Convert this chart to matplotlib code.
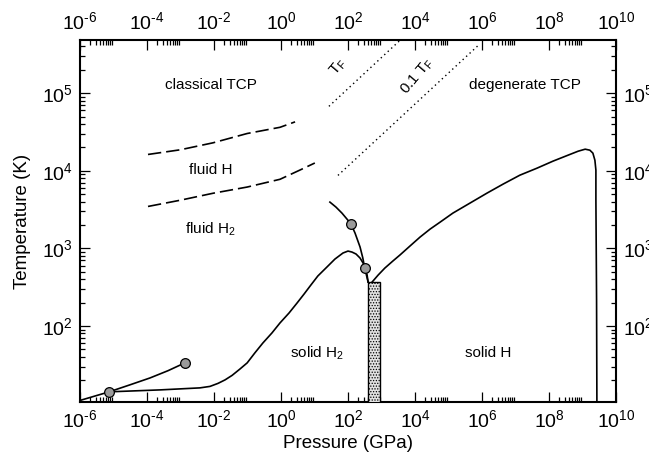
import numpy as np
import matplotlib
matplotlib.use("Agg")
import matplotlib.pyplot as plt
from matplotlib.ticker import LogLocator, FuncFormatter, NullFormatter
from matplotlib.patches import Rectangle

plt.rcParams['font.family'] = ['Liberation Sans', 'DejaVu Sans']
plt.rcParams['mathtext.fontset'] = 'custom'
plt.rcParams['mathtext.rm'] = 'Liberation Sans'
plt.rcParams['mathtext.it'] = 'Liberation Sans:italic'
plt.rcParams['hatch.color'] = '#808080'
plt.rcParams['hatch.linewidth'] = 0.6

# ---- data (log10 of pressure in GPa, log10 of temperature in K) ----
melt_logP = [-5.13, -3.61, -2.42, -2.12, -1.88, -1.67, -1.46, -1.22, -1.01, -0.78, -0.54,
             -0.27, -0.03, 0.24, 0.48, 0.69, 0.87, 1.10, 1.37, 1.61, 1.85, 2.00, 2.12,
             2.24, 2.36, 2.45, 2.51, 2.57, 2.60]
melt_logT = [1.151, 1.176, 1.202, 1.221, 1.260, 1.305, 1.363, 1.447, 1.524, 1.653, 1.781,
             1.910, 2.039, 2.167, 2.296, 2.412, 2.515, 2.644, 2.759, 2.862, 2.940, 2.965,
             2.952, 2.927, 2.875, 2.811, 2.746, 2.656, 2.566]

subl_logP = [-6.00, -5.13]
subl_logT = [1.04, 1.151]

lg_logP = [-5.13, -4.51, -3.91, -3.37, -2.87]
lg_logT = [1.151, 1.241, 1.330, 1.424, 1.524]

pt_logP = [1.46, 1.64, 1.82, 1.97, 2.09, 2.21, 2.36, 2.44, 2.50, 2.57, 2.60]
pt_logT = [3.596, 3.532, 3.454, 3.377, 3.313, 3.197, 3.017, 2.880, 2.746, 2.620, 2.566]

solidH_logP = [2.72, 2.90, 3.10, 3.34, 3.55, 3.85, 4.15, 4.45, 4.75, 5.13, 5.64, 6.15,
               6.63, 7.13, 7.64, 8.12, 8.57, 8.87, 9.08, 9.22, 9.31, 9.37, 9.40, 9.40,
               9.42, 9.43]
solidH_logT = [2.566, 2.656, 2.746, 2.837, 2.914, 3.030, 3.145, 3.248, 3.338, 3.454,
               3.583, 3.712, 3.828, 3.943, 4.033, 4.124, 4.201, 4.252, 4.278, 4.265,
               4.227, 4.136, 4.008, 3.622, 2.335, 0.98]

dashU_logP = [-3.97, -3.01, -2.03, -1.01, -0.03, 0.42]
dashU_logT = [4.21, 4.27, 4.36, 4.48, 4.56, 4.63]

dashL_logP = [-3.97, -3.01, -2.03, -1.01, -0.03, 0.57, 1.01]
dashL_logT = [3.54, 3.62, 3.71, 3.79, 3.89, 4.01, 4.10]

TF_logP = [1.43, 3.60]
TF_logT = [4.83, 5.70]
TF01_logP = [1.70, 5.90]
TF01_logT = [3.94, 5.62]

pts_logP = [-5.13, -2.87, 2.09, 2.50]
pts_logT = [1.151, 1.524, 3.313, 2.746]

rect_logP = [2.59, 2.96]
rect_logT_top = 2.57

def p(a):
    return 10.0 ** np.asarray(a)

fig = plt.figure(figsize=(6.49, 4.62), dpi=100)
ax = fig.add_axes([80/649, 1-402/462, 536/649, 362/462])
ax.set_xscale('log')
ax.set_yscale('log')
ax.set_xlim(1e-6, 1e10)
ax.set_ylim(10**1.02, 10**5.685)

lw = 1.2
for xs, ys in [(melt_logP, melt_logT), (subl_logP, subl_logT), (lg_logP, lg_logT),
               (pt_logP, pt_logT), (solidH_logP, solidH_logT)]:
    ax.plot(p(xs), p(ys), color='black', lw=lw, solid_joinstyle='round')
ax.plot(p(dashU_logP), p(dashU_logT), color='black', lw=lw, linestyle=(0, (8, 3)))
ax.plot(p(dashL_logP), p(dashL_logT), color='black', lw=lw, linestyle=(0, (8, 3)))
ax.plot(p(TF_logP), p(TF_logT), color='black', lw=1.0, linestyle=(0, (1, 2.4)))
ax.plot(p(TF01_logP), p(TF01_logT), color='black', lw=1.0, linestyle=(0, (1, 2.4)))

x0, x1 = p(rect_logP)
ax.add_patch(Rectangle((x0, 1.0), x1 - x0, 10**rect_logT_top - 1.0,
                       facecolor='#e2e2e2', edgecolor='black', lw=1.0,
                       hatch='......', zorder=3))

ax.plot(p(pts_logP), p(pts_logT), linestyle='none', marker='o', markersize=7,
        markerfacecolor='#9a9a9a', markeredgecolor='black', markeredgewidth=0.9, zorder=5)

fs = 11
ax.text(p(-2.1), p(5.10), 'classical TCP', fontsize=fs, ha='center', va='center')
ax.text(p(7.28), p(5.10), 'degenerate TCP', fontsize=fs, ha='center', va='center')
ax.text(p(-2.1), p(4.01), 'fluid H', fontsize=fs, ha='center', va='center')
ax.text(p(-2.1), p(3.24), 'fluid H$_2$', fontsize=fs, ha='center', va='center')
ax.text(p(1.07), p(1.65), 'solid H$_2$', fontsize=fs, ha='center', va='center')
ax.text(p(6.18), p(1.65), 'solid H', fontsize=fs, ha='center', va='center')
ax.text(p(1.72), p(5.34), 'T$_\\mathregular{F}$', fontsize=fs, ha='center', va='center', rotation=50)
ax.text(p(4.08), p(5.22), '0.1 T$_\\mathregular{F}$', fontsize=fs, ha='center', va='center', rotation=50)

def fmt_func(v, pos):
    e = int(round(np.log10(v)))
    s = str(abs(e))
    if e < 0:
        s = '\u2010' + s
    return r'$\mathregular{10^{%s}}$' % s

fmt = FuncFormatter(fmt_func)
ax.xaxis.set_major_locator(LogLocator(base=100, numticks=20))
ax.xaxis.set_minor_locator(LogLocator(base=100, subs=np.arange(2, 10), numticks=20))
ax.xaxis.set_major_formatter(fmt)
ax.xaxis.set_minor_formatter(NullFormatter())
ax.yaxis.set_major_locator(LogLocator(base=10, numticks=20))
ax.yaxis.set_minor_locator(LogLocator(base=10, subs=np.arange(2, 10), numticks=20))
ax.yaxis.set_major_formatter(fmt)
ax.yaxis.set_minor_formatter(NullFormatter())

ax.tick_params(which='both', direction='in', top=True, right=True,
               labeltop=True, labelright=True, labelsize=14, width=0.9)
ax.tick_params(which='major', length=7, pad=5)
ax.tick_params(which='minor', length=3.5)
for s in ax.spines.values():
    s.set_linewidth(1.5)

ax.set_xlabel('Pressure (GPa)', fontsize=13.5, labelpad=3)
ax.set_ylabel('Temperature (K)', fontsize=13.5, labelpad=8)

fig.savefig('out.png', dpi=100)
